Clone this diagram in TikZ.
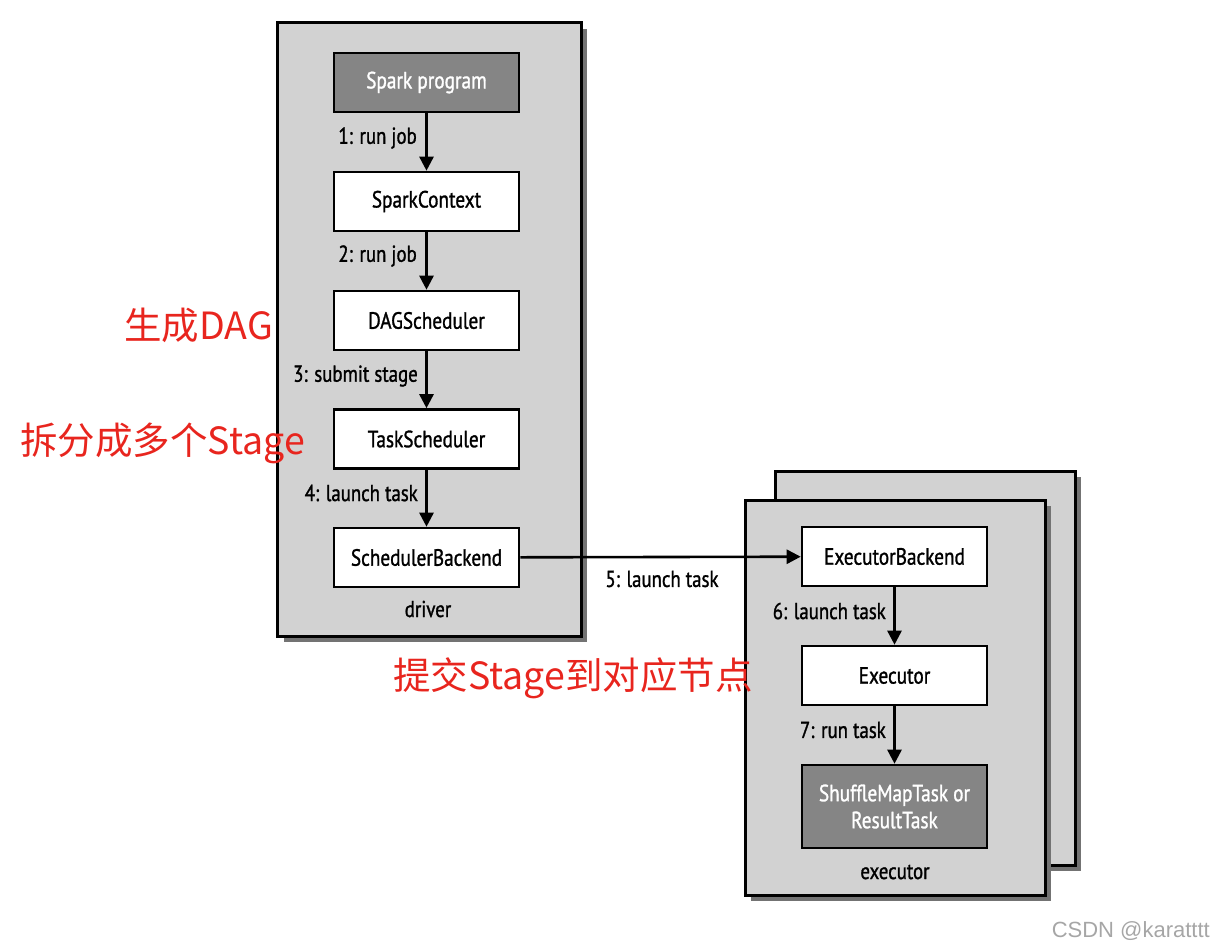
\documentclass[tikz,border=0pt]{standalone}
\usepackage{fontspec}
\setmainfont{PT Sans}
\newfontfamily\boxfont[FakeStretch=0.82,FakeBold=1.2]{PT Sans}
\newfontfamily\cjk{Noto Sans CJK SC}
\newfontfamily\wmfont{Liberation Sans}
\usetikzlibrary{arrows.meta}
\definecolor{panelgray}{HTML}{D2D2D2}
\definecolor{darkbox}{HTML}{858585}
\definecolor{cnred}{HTML}{E8251E}
\begin{document}
\begin{tikzpicture}[x=1pt,y=-1pt,
  panel/.style={draw=black,line width=3pt,fill=panelgray},
  shadowbox/.style={fill=black!55,draw=none},
  stepbox/.style={draw=black,line width=2.6pt,fill=white,minimum width=185pt,minimum height=59pt,inner sep=0pt,font=\boxfont\fontsize{23.5}{26}\selectfont},
  darkstep/.style={stepbox,fill=darkbox,text=white},
  flow/.style={line width=2.6pt,-{Triangle[length=14pt,width=14pt]}},
  lbl/.style={font=\boxfont\fontsize{23}{26}\selectfont,inner sep=0pt},
  note/.style={text=cnred,font=\cjk\fontsize{37.5}{42}\selectfont,inner sep=0pt}]
\useasboundingbox (0,0) rectangle (1214,951);
% driver panel
\fill[shadowbox] (284,29) rectangle (587,642);
\draw[panel] (277,22) rectangle (581,636);
% executor panels
\fill[shadowbox] (781,477) rectangle (1081,871);
\draw[panel] (775,471) rectangle (1075,865);
\fill[shadowbox] (751,506) rectangle (1051,901);
\draw[panel] (745,500) rectangle (1045,895);
% driver nodes
\node[darkstep] (sp) at (426.5,82.5) {Spark program};
\node[stepbox] (sc) at (426.5,201.5) {SparkContext};
\node[stepbox] (dag) at (426.5,320.5) {DAGScheduler};
\node[stepbox] (ts) at (426.5,439) {TaskScheduler};
\node[stepbox] (sb) at (426.5,557.5) {SchedulerBackend};
\node[lbl] (drv) at (428,609) {driver};
% executor nodes
\node[stepbox] (eb) at (894.5,556.5) {ExecutorBackend};
\node[stepbox] (ex) at (894.5,675.5) {Executor};
\node[darkstep,minimum height=83pt,align=center,font=\boxfont\fontsize{23.5}{27}\selectfont] (task) at (894.5,806.5) {ShuffleMapTask or\\ResultTask};
\node[lbl] (exl) at (895,872) {executor};
% arrows
\draw[flow] (sp) -- (sc);
\draw[flow] (sc) -- (dag);
\draw[flow] (dag) -- (ts);
\draw[flow] (ts) -- (sb);
\draw[flow] (sb) -- (eb);
\draw[flow] (eb) -- (ex);
\draw[flow] (ex) -- (task);
% labels
\node[lbl,anchor=east] (l1) at (417,138) {1: run job};
\node[lbl,anchor=east] (l2) at (417,256) {2: run job};
\node[lbl,anchor=east] (l3) at (418,376) {3: submit stage};
\node[lbl,anchor=east] (l4) at (418,493) {4: launch task};
\node[lbl] (l5) at (662,579) {5: launch task};
\node[lbl,anchor=east] (l6) at (886,611) {6: launch task};
\node[lbl,anchor=east] (l7) at (886,730) {7: run task};
% red notes
\node[note,anchor=west] (n1) at (124,325) {生成DAG};
\node[note,anchor=west] (n2) at (20,443) {拆分成多个Stage};
\node[note,anchor=west] (n3) at (393,678) {提交Stage到对应节点};
% watermark
\node[anchor=east,text=black!35,font=\wmfont\fontsize{22}{25}\selectfont,inner sep=0pt] (wm) at (1210,931) {CSDN @karatttt};
\end{tikzpicture}
\end{document}
